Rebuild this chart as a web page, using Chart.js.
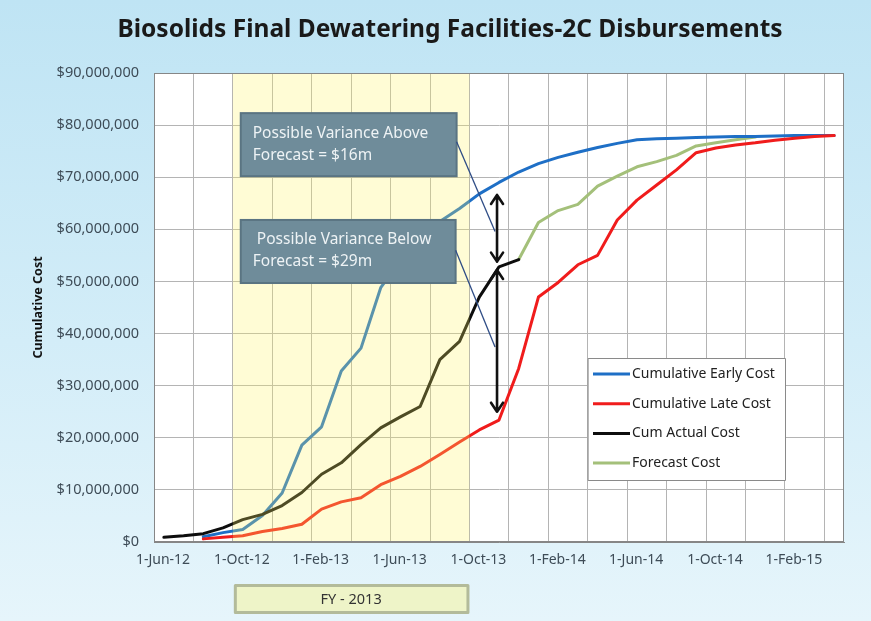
<!DOCTYPE html>
<html>
<head>
<meta charset="utf-8">
<script src="https://cdn.jsdelivr.net/npm/chart.js@4.4.1/dist/chart.umd.min.js"></script>
<style>
  html, body { margin: 0; padding: 0; }
  body {
    width: 871px; height: 621px; overflow: hidden;
    background: linear-gradient(180deg, #bfe4f4 0%, #d3edf8 55%, #e6f5fb 100%);
  }
  canvas { display: block; }
</style>
</head>
<body>
<canvas id="disbChart" width="871" height="621"></canvas>
<script>
// months counted from 1-Jun-12 (index 0 = Jun-12), values in $ millions, plotted mid-month
const tickLabels = ["1-Jun-12", "1-Oct-12", "1-Feb-13", "1-Jun-13", "1-Oct-13", "1-Feb-14", "1-Jun-14", "1-Oct-14", "1-Feb-15"];

const earlyCost = [null, null, 1.0, 1.8, 2.4, 5.1, 9.4, 18.6, 22.1, 32.8, 37.2, 48.8, 54.0, 58.0, 61.5,
  64.0, 66.8, 69.0, 71.0, 72.6, 73.8, 74.8, 75.7, 76.5, 77.2, 77.4, 77.5, 77.6, 77.7, 77.8, 77.8, 77.9, 78.0, 78.0, 78.0];
const lateCost = [null, null, 0.6, 0.9, 1.2, 2.0, 2.6, 3.4, 6.3, 7.7, 8.5, 11.0, 12.6, 14.5, 16.8,
  19.2, 21.5, 23.4, 33.3, 47.0, 49.8, 53.2, 55.0, 61.8, 65.6, 68.5, 71.4, 74.7, 75.6, 76.2, 76.6, 77.1, 77.5, 77.8, 78.0];
const actualCost = [0.9, 1.2, 1.6, 2.7, 4.3, 5.3, 7.0, 9.5, 13.0, 15.2, 18.7, 21.9, 24.0, 26.0, 35.0,
  38.5, 47.0, 52.8, 54.2];
const forecastCost = [null, null, null, null, null, null, null, null, null, null, null, null, null, null, null,
  null, null, null, 54.2, 61.3, 63.6, 64.8, 68.3, 70.2, 72.0, 73.0, 74.2, 76.0, 76.6, 77.2, 77.7];

const fyStart = 4, fyEnd = 16;   // FY-2013 = 1-Oct-12 .. 1-Oct-13

// callouts (month, $M)
const calloutAbove = { x0: 4.4, x1: 15.35, top: 82.3, bottom: 70.2, lines: ["Possible Variance Above", "Forecast = $16m"] };
const calloutBelow = { x0: 4.4, x1: 15.3, top: 61.8, bottom: 49.7, lines: [" Possible Variance Below", "Forecast = $29m"] };
const connectors = [[15.35, 76.8, 17.3, 59.6], [15.3, 56.0, 17.3, 37.4]];
const arrows = [[17.4, 66.6, 53.8], [17.4, 52.2, 25.0]];

const chartTitle = "Biosolids Final Dewatering Facilities-2C Disbursements";

const toPoints = (vals) => vals
  .map((v, i) => (v === null ? null : { x: i + 0.5, y: v * 1e6 }))
  .filter((p) => p);

Chart.defaults.font.family = "'Noto Sans', sans-serif";

const overlays = {
  id: "overlays",
  beforeDraw(chart) {
    const { ctx, chartArea: a } = chart;
    ctx.save();
    ctx.fillStyle = "#ffffff";
    ctx.fillRect(a.left, a.top, a.right - a.left, a.bottom - a.top);
    // title (placed by hand, the Excel original is not centred on the canvas)
    ctx.fillStyle = "#1a1a1a";
    ctx.font = "bold 24.5px 'Noto Sans', sans-serif";
    ctx.textAlign = "center";
    ctx.textBaseline = "middle";
    ctx.fillText(chartTitle, 450, 30);
    ctx.restore();
  },
  afterDatasetsDraw(chart) {
    const { ctx, chartArea: a, scales } = chart;
    const xs = scales.x, ys = scales.y;
    const X = (m) => xs.getPixelForValue(m);
    const Y = (v) => ys.getPixelForValue(v * 1e6);
    ctx.save();

    // FY-2013 shading laid over the lines
    ctx.fillStyle = "rgba(255, 245, 100, 0.27)";
    ctx.fillRect(X(fyStart), a.top, X(fyEnd) - X(fyStart), a.bottom - a.top);

    // plot border
    ctx.strokeStyle = "#868686";
    ctx.lineWidth = 1;
    ctx.strokeRect(a.left + 0.5, a.top + 0.5, a.right - a.left - 1, a.bottom - a.top - 1);

    // callout boxes
    [calloutAbove, calloutBelow].forEach((c) => {
      const l = X(c.x0), r = X(c.x1), t = Y(c.top), b = Y(c.bottom);
      ctx.fillStyle = "#6f8c9a";
      ctx.fillRect(l, t, r - l, b - t);
      ctx.strokeStyle = "#5a7482";
      ctx.lineWidth = 2;
      ctx.strokeRect(l, t, r - l, b - t);
      ctx.fillStyle = "#eef3f5";
      ctx.font = "15.5px 'Noto Sans', sans-serif";
      ctx.textBaseline = "middle";
      ctx.textAlign = "left";
      ctx.fillText(c.lines[0], l + 12, t + 20);
      ctx.fillText(c.lines[1], l + 12, t + 42);
    });

    // connector lines
    ctx.strokeStyle = "#2f4d86";
    ctx.lineWidth = 1.3;
    connectors.forEach(([m0, v0, m1, v1]) => {
      ctx.beginPath();
      ctx.moveTo(X(m0), Y(v0));
      ctx.lineTo(X(m1), Y(v1));
      ctx.stroke();
    });

    // double-headed arrows
    ctx.strokeStyle = "#111111";
    ctx.lineWidth = 2.6;
    ctx.lineCap = "round";
    ctx.lineJoin = "round";
    arrows.forEach(([m, v0, v1]) => {
      const x = X(m), y0 = Y(v0), y1 = Y(v1);
      ctx.beginPath();
      ctx.moveTo(x, y0);
      ctx.lineTo(x, y1);
      ctx.moveTo(x - 6, y0 + 9);
      ctx.lineTo(x, y0);
      ctx.lineTo(x + 6, y0 + 9);
      ctx.moveTo(x - 6, y1 - 9);
      ctx.lineTo(x, y1);
      ctx.lineTo(x + 6, y1 - 9);
      ctx.stroke();
    });

    // legend box
    const lx = a.left + 434, ly = a.top + 285, lw = 197, lh = 122;
    ctx.fillStyle = "#ffffff";
    ctx.fillRect(lx, ly, lw, lh);
    ctx.strokeStyle = "#8a8a8a";
    ctx.lineWidth = 1;
    ctx.strokeRect(lx + 0.5, ly + 0.5, lw, lh);
    ctx.font = "14px 'Noto Sans', sans-serif";
    ctx.textBaseline = "middle";
    ctx.lineCap = "butt";
    chart.data.datasets.forEach((ds, i) => {
      const yy = ly + 16 + i * 29.7;
      ctx.strokeStyle = ds.borderColor;
      ctx.lineWidth = 3;
      ctx.beginPath();
      ctx.moveTo(lx + 5, yy);
      ctx.lineTo(lx + 42, yy);
      ctx.stroke();
      ctx.fillStyle = "#222222";
      ctx.fillText(ds.label, lx + 44, yy);
    });

    // FY - 2013 label box under the axis
    const fl = xs.getPixelForValue(4.1), fr = xs.getPixelForValue(15.9);
    const ft = a.bottom + 43, fh = 27;
    ctx.fillStyle = "#eef4c8";
    ctx.fillRect(fl, ft, fr - fl, fh);
    ctx.strokeStyle = "#b3bb9a";
    ctx.strokeRect(fl + 0.5, ft + 0.5, fr - fl, fh);
    ctx.fillStyle = "#333333";
    ctx.textAlign = "center";
    ctx.font = "14.5px 'Noto Sans', sans-serif";
    ctx.fillText("FY - 2013", (fl + fr) / 2, ft + fh / 2 + 1);

    ctx.restore();
  }
};

new Chart(document.getElementById("disbChart"), {
  type: "line",
  data: {
    datasets: [
      { label: "Cumulative Early Cost", data: toPoints(earlyCost), borderColor: "#1e6fc6", order: 2 },
      { label: "Cumulative Late Cost", data: toPoints(lateCost), borderColor: "#f01c1c", order: 1 },
      { label: "Cum Actual Cost", data: toPoints(actualCost), borderColor: "#0d0d0d", order: 0 },
      { label: "Forecast Cost", data: toPoints(forecastCost), borderColor: "#a4c07a", order: 3 },
    ],
  },
  options: {
    responsive: false,
    animation: false,
    layout: { padding: { left: 28, right: 27, top: 73, bottom: 0 } },
    elements: {
      line: { borderWidth: 3, tension: 0, borderCapStyle: "round", borderJoinStyle: "round" },
      point: { radius: 0 },
    },
    plugins: {
      legend: { display: false },
      tooltip: { enabled: false },
      title: { display: false },
    },
    scales: {
      x: {
        type: "linear",
        min: 0,
        max: 35,
        afterFit: (s) => { s.height = 79; },
        grid: { color: "#b4b4b4", drawTicks: false },
        border: { color: "#868686" },
        ticks: {
          stepSize: 2,
          includeBounds: false,
          autoSkip: false,
          maxRotation: 0,
          padding: 10,
          labelOffset: 9,
          color: "#3e4c57",
          font: { size: 14 },
          callback: (v) => (v % 4 === 0 ? tickLabels[v / 4] : ""),
        },
      },
      y: {
        min: 0,
        max: 90000000,
        afterFit: (s) => { s.width = 126; },
        grid: { color: "#b4b4b4", drawTicks: false },
        border: { color: "#868686" },
        ticks: {
          stepSize: 10000000,
          padding: 15,
          color: "#3e4c57",
          font: { size: 14.5 },
          callback: (v) => "$" + v.toLocaleString("en-US"),
        },
        title: {
          display: true,
          text: "Cumulative Cost",
          color: "#111111",
          font: { size: 12.5, weight: "bold" },
          padding: { top: 3, bottom: 3 },
        },
      },
    },
  },
  plugins: [overlays],
});
</script>
</body>
</html>
